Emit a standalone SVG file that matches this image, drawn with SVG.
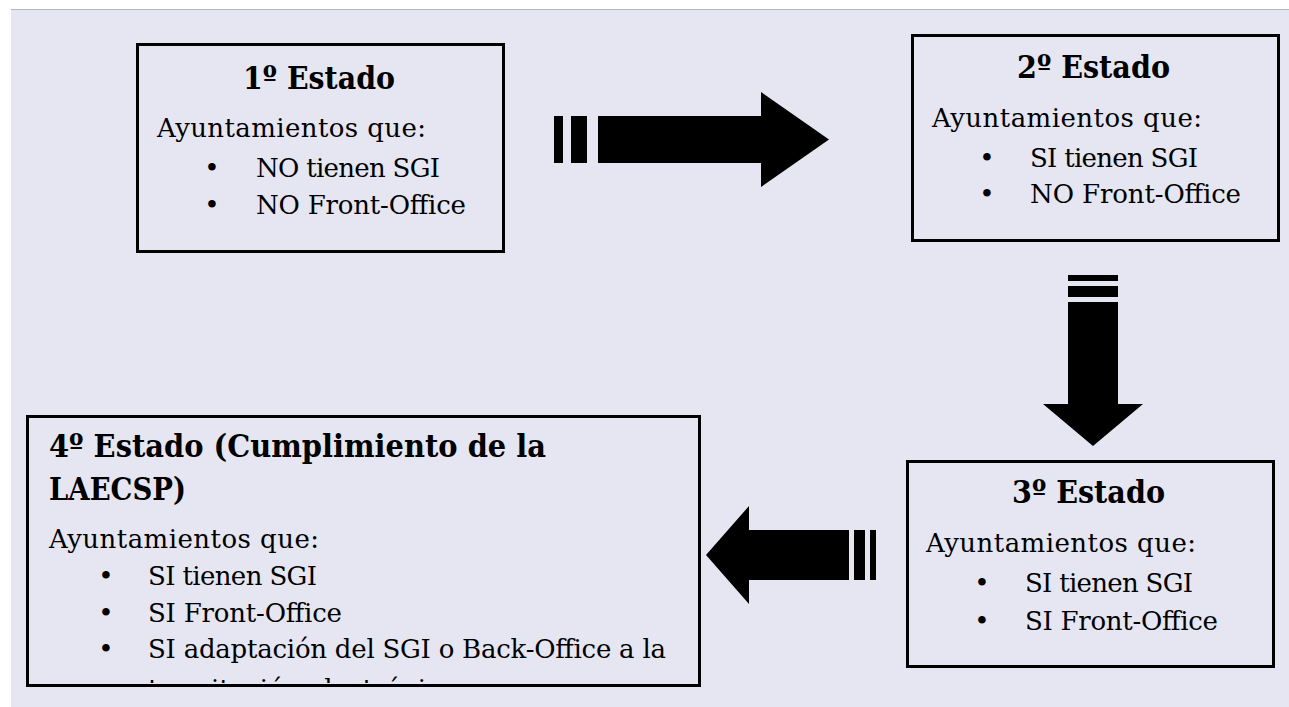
<svg xmlns="http://www.w3.org/2000/svg" width="1289" height="707" viewBox="0 0 1289 707">
<defs>
<style>
.box{fill:none;stroke:#000;stroke-width:3}
.title{font-family:"DejaVu Serif","Liberation Serif",serif;font-weight:bold;font-size:31px;fill:#000}
.body{font-family:"DejaVu Serif","Liberation Serif",serif;font-size:26px;fill:#000}
.bul{font-family:"DejaVu Serif","Liberation Serif",serif;font-size:26px;fill:#000;text-anchor:middle}
.arrow{fill:#000}
</style>
<clipPath id="clip4"><rect x="29" y="418" width="669" height="265"/></clipPath>
</defs>
<rect x="0" y="0" width="1289" height="707" fill="#ffffff"/>
<rect x="11" y="10" width="1278" height="697" fill="#e6e6f2"/>
<line x1="11" y1="9.5" x2="1289" y2="9.5" stroke="#b4b4bc" stroke-width="1"/>

<g id="connectors">
<g id="arrow-1-2" class="arrow">
<rect x="554" y="116" width="9" height="47"/>
<rect x="571" y="116" width="16" height="47"/>
<polygon points="598,116 761,116 761,92 829,139.5 761,187 761,163 598,163"/>
</g>
<g id="arrow-2-3" class="arrow">
<rect x="1068" y="275" width="50" height="6"/>
<rect x="1068" y="286" width="50" height="11"/>
<polygon points="1068,302 1118,302 1118,404 1143,404 1093,446 1043,404 1068,404"/>
</g>
<g id="arrow-3-4" class="arrow">
<rect x="870" y="530" width="6" height="50"/>
<rect x="854" y="530" width="11" height="50"/>
<polygon points="849,530 749,530 749,506 706,555 749,604 749,580 849,580"/>
</g>
</g>

<g id="node-1">
<rect class="box" x="137.5" y="44.5" width="366" height="207"/>
<text class="title" x="243" y="89" textLength="152" lengthAdjust="spacingAndGlyphs">1º Estado</text>
<text class="body" x="157" y="137" textLength="269">Ayuntamientos que:</text>
<text class="bul" x="212" y="177">•</text>
<text class="body" x="256" y="177" textLength="184">NO tienen SGI</text>
<text class="bul" x="212" y="214">•</text>
<text class="body" x="256" y="214" textLength="210">NO Front-Office</text>
</g>

<g id="node-2">
<rect class="box" x="912.5" y="35.5" width="366" height="205"/>
<text class="title" x="1017" y="78" textLength="153" lengthAdjust="spacingAndGlyphs">2º Estado</text>
<text class="body" x="932" y="127" textLength="270">Ayuntamientos que:</text>
<text class="bul" x="987" y="167">•</text>
<text class="body" x="1030" y="167" textLength="168">SI tienen SGI</text>
<text class="bul" x="987" y="203">•</text>
<text class="body" x="1030" y="203" textLength="211">NO Front-Office</text>
</g>

<g id="node-3">
<rect class="box" x="907.5" y="461.5" width="366" height="205"/>
<text class="title" x="1012" y="503" textLength="153" lengthAdjust="spacingAndGlyphs">3º Estado</text>
<text class="body" x="926" y="552" textLength="270">Ayuntamientos que:</text>
<text class="bul" x="982" y="592">•</text>
<text class="body" x="1025" y="592" textLength="168">SI tienen SGI</text>
<text class="bul" x="982" y="630">•</text>
<text class="body" x="1025" y="630" textLength="193">SI Front-Office</text>
</g>

<g id="node-4">
<rect class="box" x="27.5" y="416.5" width="672" height="269"/>
<text class="title" x="49" y="457" textLength="497" lengthAdjust="spacingAndGlyphs">4º Estado (Cumplimiento de la</text>
<text class="title" x="49" y="500" textLength="137" lengthAdjust="spacingAndGlyphs">LAECSP)</text>
<text class="body" x="49" y="548" textLength="270">Ayuntamientos que:</text>
<text class="bul" x="106" y="585">•</text>
<text class="body" x="148" y="585" textLength="169">SI tienen SGI</text>
<text class="bul" x="106" y="622">•</text>
<text class="body" x="148" y="622" textLength="194">SI Front-Office</text>
<text class="bul" x="106" y="658">•</text>
<text class="body" x="148" y="658" textLength="518">SI adaptación del SGI o Back-Office a la</text>
<text class="body" x="148" y="698" clip-path="url(#clip4)">tramitación electrónica</text>
</g>
</svg>
